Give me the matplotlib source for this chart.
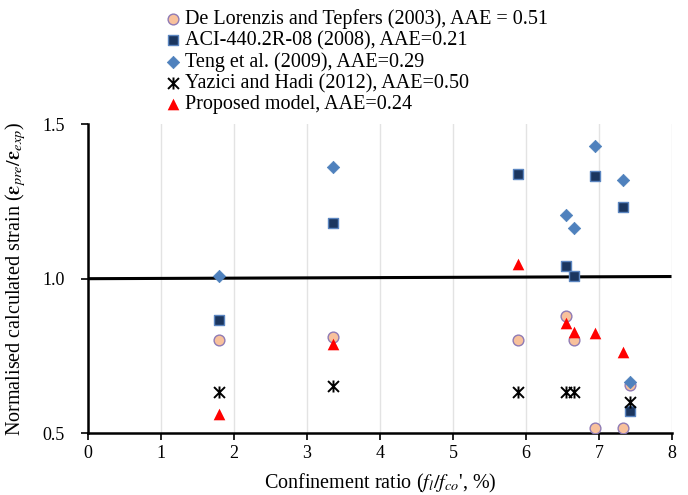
import matplotlib.pyplot as plt
import numpy as np
from matplotlib.path import Path

plt.rcParams['font.family'] = ['Liberation Serif', 'DejaVu Serif']
plt.rcParams['mathtext.fontset'] = 'stix'

# confinement ratio of each specimen (%)
x = [1.8, 3.35, 5.89, 6.55, 6.66, 6.94, 7.32, 7.42]
nan = np.nan
lorenzis = [0.80, 0.81, 0.80, 0.88, 0.80, 0.515, 0.515, 0.655]
aci = [0.866, 1.18, 1.34, 1.04, 1.008, 1.333, 1.232, 0.571]
teng = [1.008, 1.362, nan, 1.205, 1.164, 1.431, 1.319, 0.664]
yazici = [0.632, 0.653, 0.632, 0.632, 0.632, nan, nan, 0.601]
proposed = [0.561, 0.788, 1.049, 0.855, 0.828, 0.823, 0.763, nan]
ref_x = [0, 7.97]
ref_y = [1.0, 1.007]

labels = ['De Lorenzis and Tepfers (2003), AAE = 0.51',
          'ACI-440.2R-08 (2008), AAE=0.21',
          'Teng et al. (2009), AAE=0.29',
          'Yazici and Hadi (2012), AAE=0.50',
          'Proposed model, AAE=0.24']

# X plus vertical bar, like the spreadsheet "star" marker
star = Path([(-1, -1), (1, 1), (-1, 1), (1, -1), (0, -1.1), (0, 1.1)],
            [Path.MOVETO, Path.LINETO, Path.MOVETO, Path.LINETO, Path.MOVETO, Path.LINETO])

fig = plt.figure(figsize=(6.88, 4.95), dpi=100)
ax = fig.add_axes([0.128, 0.125, 0.849, 0.624])

ax.plot(ref_x, ref_y, color='black', lw=2.2, zorder=2)
h1 = ax.scatter(x, lorenzis, marker='o', s=60, facecolor='#F8C19C', edgecolor='#8F7BB5', lw=1, zorder=3)
h2 = ax.scatter(x, aci, marker='s', s=60, facecolor='#1B365F', edgecolor='#5B85C0', lw=1, zorder=3)
h3 = ax.scatter(x, teng, marker='D', s=40, facecolor='#4F81BD', edgecolor='#4F81BD', lw=0.5, zorder=4)
h4 = ax.scatter(x, yazici, marker=star, s=75, color='black', lw=1.4, zorder=5)
h5 = ax.scatter(x, proposed, marker='^', s=70, color='#FF0000', lw=0, zorder=6)

ax.set_xlim(0, 8)
ax.set_ylim(0.5, 1.5)
ax.set_xticks(range(0, 9))
ax.set_yticks([0.5, 1.0, 1.5])
ax.set_yticklabels(['0.5', '1.0', '1.5'])
ax.xaxis.grid(True, color='#E3E3E3', lw=1)
ax.set_axisbelow(True)
for s in ['top', 'right']:
    ax.spines[s].set_visible(False)
for s in ['left', 'bottom']:
    ax.spines[s].set_linewidth(1.8)
ax.tick_params(labelsize=13, length=5, width=1.2)
ax.tick_params(axis='y', pad=12)

ax.set_xlabel(r"Confinement ratio ($f_l/f_{co}$', %)", fontsize=14.5, labelpad=7)
ax.set_ylabel(r'Normalised calculated strain ($\boldsymbol{\varepsilon}_{pre}/\boldsymbol{\varepsilon}_{exp}$)',
              fontsize=14.5, labelpad=10)

fig.legend([h1, h2, h3, h4, h5], labels, loc='upper left', bbox_to_anchor=(0.225, 0.998),
           frameon=False, fontsize=14.5, handletextpad=0.1, labelspacing=0.1,
           handlelength=1.0, borderaxespad=0)

fig.savefig('out.png', dpi=100)
